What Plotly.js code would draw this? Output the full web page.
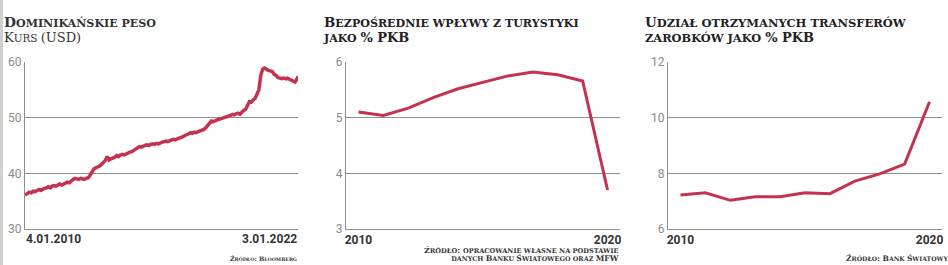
<!DOCTYPE html>
<html><head><meta charset="utf-8">
<script src="https://cdn.plot.ly/plotly-3.0.1.min.js"></script>
<style>html,body{margin:0;padding:0;background:#fff;} #chart{width:948px;height:265px;}</style>
</head><body><div id="chart"></div>
<script>
// ---- data ----
const pesoStart = '2010-01-04';
const pesoEnd = '2022-01-03';
// monthly USD/DOP readings, Jan 2010 .. Jan 2022
const pesoRate = [
  36.1, 36.3, 36.6, 36.5, 36.8, 36.7, 36.9, 37.1, 36.9, 37.2, 37.3, 37.4,
  37.6, 37.4, 37.7, 37.8, 37.7, 37.9, 38.1, 37.9, 38.1, 38.2, 38.4, 38.3,
  38.7, 38.9, 39.1, 39.0, 38.9, 39.1, 39.0, 38.9, 39.1, 39.2, 39.7, 40.3,
  40.8, 41.0, 41.1, 41.3, 41.6, 41.9, 42.3, 43.0, 42.4, 42.6, 42.7, 42.9,
  43.2, 43.0, 43.3, 43.4, 43.3, 43.5, 43.7, 43.8, 43.9, 44.1, 44.3, 44.6,
  44.8, 44.7, 44.9, 45.0, 45.1, 45.0, 45.2, 45.3, 45.2, 45.4, 45.3, 45.5,
  45.6, 45.7, 45.8, 45.7, 45.9, 46.0, 46.1, 46.0, 46.2, 46.3, 46.4, 46.6,
  46.8, 46.9, 47.1, 47.3, 47.2, 47.4, 47.3, 47.5, 47.6, 47.7, 47.9, 48.2,
  48.6, 49.2, 49.4, 49.3, 49.5, 49.6, 49.7, 49.8, 49.9, 50.0, 50.1, 50.2,
  50.4, 50.6, 50.5, 50.7, 50.8, 50.6, 51.0, 51.3, 51.5, 52.4, 52.9, 52.8,
  53.1, 53.5, 54.2, 55.0, 57.6, 58.7, 58.9, 58.6, 58.5, 58.4, 58.3, 57.8,
  57.6, 57.2, 57.1, 57.0, 57.1, 57.0, 57.1, 56.9, 56.8, 56.5, 56.4, 56.9,
  57.4
];
const years = [2010, 2011, 2012, 2013, 2014, 2015, 2016, 2017, 2018, 2019, 2020];
const tourismShare = [5.10, 5.04, 5.17, 5.36, 5.52, 5.63, 5.75, 5.82, 5.77, 5.66, 3.70];
const remittanceShare = [7.22, 7.30, 7.03, 7.16, 7.16, 7.30, 7.27, 7.72, 7.98, 8.33, 10.57];

const pesoTicks = [30, 40, 50, 60];
const tourismTicks = [3, 4, 5, 6];
const remitTicks = [6, 8, 10, 12];
const yearTicks = [2010, 2020];
const pesoDateLabels = ['4.01.2010', '3.01.2022'];

const titles1 = ['Dominikańskie peso', 'Kurs (USD)'];
const titles2 = ['Bezpośrednie wpływy z turystyki', 'jako % PKB'];
const titles3 = ['Udział otrzymanych transferów', 'zarobków jako % PKB'];
const src1 = ['Źródło: Bloomberg'];
const src2 = ['Źródło: opracowanie własne na podstawie', 'danych Banku Światowego oraz MFW'];
const src3 = ['Źródło: Bank Światowy'];

// build dates for monthly series
const pesoDates = pesoRate.map((v, i) => {
  if (i === 0) return pesoStart;
  if (i === pesoRate.length - 1) return pesoEnd;
  const y = 2010 + Math.floor(i / 12);
  const m = (i % 12) + 1;
  return y + '-' + String(m).padStart(2, '0') + '-15';
});

// small caps: lowercase letters drawn as smaller capitals (textcase upper)
function sc(str, big, small) {
  let out = '', cur = null, buf = '';
  const wrap = (k, s) => '<span style="font-size:' + (k === 's' ? small : big) + 'px">' + s + '</span>';
  for (const ch of str) {
    const isLower = ch !== ch.toUpperCase();
    const kind = isLower ? 's' : (ch === ' ' ? (cur || 'b') : 'b');
    if (cur !== null && kind !== cur) { out += wrap(cur, buf); buf = ''; }
    cur = kind; buf += ch;
  }
  if (buf) out += wrap(cur, buf);
  return out;
}

// ---- styling ----
const W = 948, H = 265;
const RED = '#c5324f';
const GRID = '#8e8e8e';
const TICKFONT = {family: 'Liberation Sans Narrow, Roboto, sans-serif', size: 12, color: '#8a8a8a'};
const XFONT = {family: 'Liberation Sans Narrow, Roboto, sans-serif', size: 12, color: '#333', weight: 'bold'};
const SERIF = 'DejaVu Serif, Liberation Serif, serif';
const yTop = 1 - 62 / H, yBot = 1 - 229 / H;

function yax(range, ticks) {
  return {domain: [yBot, yTop], range: range, tickvals: ticks, ticktext: ticks.map(String),
    showgrid: true, gridcolor: GRID, gridwidth: 1, showline: true, linecolor: GRID, linewidth: 1,
    zeroline: false, ticks: '', tickfont: TICKFONT, fixedrange: true};
}

const traces = [
  {x: pesoDates, y: pesoRate, xaxis: 'x', yaxis: 'y', type: 'scatter', mode: 'lines',
   line: {color: RED, width: 3.5}},
  {x: years, y: tourismShare, xaxis: 'x2', yaxis: 'y2', type: 'scatter', mode: 'lines',
   line: {color: RED, width: 3}},
  {x: years, y: remittanceShare, xaxis: 'x3', yaxis: 'y3', type: 'scatter', mode: 'lines',
   line: {color: RED, width: 3}}
];

const ann = [];
function txt(x, y, text, font, xanchor, xref) {
  ann.push({x: x, y: y, xref: xref || 'paper', yref: 'paper', text: text, showarrow: false,
    xanchor: xanchor || 'left', yanchor: 'middle', align: xanchor || 'left', font: font, borderpad: 0});
}
// base size sets the line spacing (~14.5px like the reference)
const tFont = {family: SERIF, size: 11.2, color: '#222', weight: 'bold', textcase: 'upper'};
const t1Font = {family: SERIF, size: 11.2, color: '#333', weight: 'normal', textcase: 'upper'};
const sFont = {family: SERIF, size: 6.2, color: '#333', weight: 'bold', textcase: 'upper'};

txt(3 / W, 1 - 30 / H,
  '<b>' + sc(titles1[0], 13.8, 11.1) + '</b><br>' + sc(titles1[1], 13, 10.4), t1Font);
txt(322 / W, 1 - 30 / H, sc(titles2[0], 13.4, 11.1) + '<br>' + sc(titles2[1], 13, 11.0), tFont);
txt(644 / W, 1 - 30 / H, sc(titles3[0], 13.4, 11.5) + '<br>' + sc(titles3[1], 13, 11.4), tFont);

// first/last date labels on panel 1
txt(pesoStart, 1 - 239 / H, pesoDateLabels[0], XFONT, 'left', 'x');
txt(pesoEnd, 1 - 239 / H, pesoDateLabels[1], XFONT, 'right', 'x');

// sources
txt(pesoEnd, 1 - 258 / H, sc(src1[0], 6.2, 4.8), sFont, 'right', 'x');
txt(2020.5, 1 - 254 / H, sc(src2[0], 8, 6.6) + '<br>' + sc(src2[1], 7.8, 6.45), sFont, 'right', 'x2');
txt(950 / W, 1 - 258 / H, sc(src3[0], 7.5, 6.2), sFont, 'right');

const layout = {
  width: W, height: H, margin: {l: 0, r: 0, t: 0, b: 0},
  paper_bgcolor: '#fff', plot_bgcolor: '#fff', showlegend: false,
  xaxis: {domain: [25 / W, 298 / W], type: 'date', range: [pesoStart, pesoEnd], showticklabels: false,
    showgrid: false, showline: true, linecolor: GRID, zeroline: false, ticks: '', anchor: 'y', fixedrange: true},
  yaxis: Object.assign(yax([30, 60], pesoTicks), {anchor: 'x'}),
  xaxis2: {domain: [346 / W, 620 / W], range: [2009.5, 2020.5], tickvals: yearTicks, ticktext: yearTicks.map(String),
    showgrid: false, showline: true, linecolor: GRID, zeroline: false, ticks: '', tickfont: XFONT, anchor: 'y2', fixedrange: true},
  yaxis2: Object.assign(yax([3, 6], tourismTicks), {anchor: 'x2'}),
  xaxis3: {domain: [668 / W, 942 / W], range: [2009.5, 2020.5], tickvals: yearTicks, ticktext: yearTicks.map(String),
    showgrid: false, showline: true, linecolor: GRID, zeroline: false, ticks: '', tickfont: XFONT, anchor: 'y3', fixedrange: true},
  yaxis3: Object.assign(yax([6, 12], remitTicks), {anchor: 'x3'}),
  annotations: ann,
  shapes: [{type: 'rect', xref: 'paper', yref: 'paper', x0: 0, x1: 3 / W, y0: 0, y1: 1,
    fillcolor: '#d0d0d0', line: {width: 0}, layer: 'below'}]
};

Plotly.newPlot('chart', traces, layout, {staticPlot: true, displayModeBar: false});
</script>
</body></html>
